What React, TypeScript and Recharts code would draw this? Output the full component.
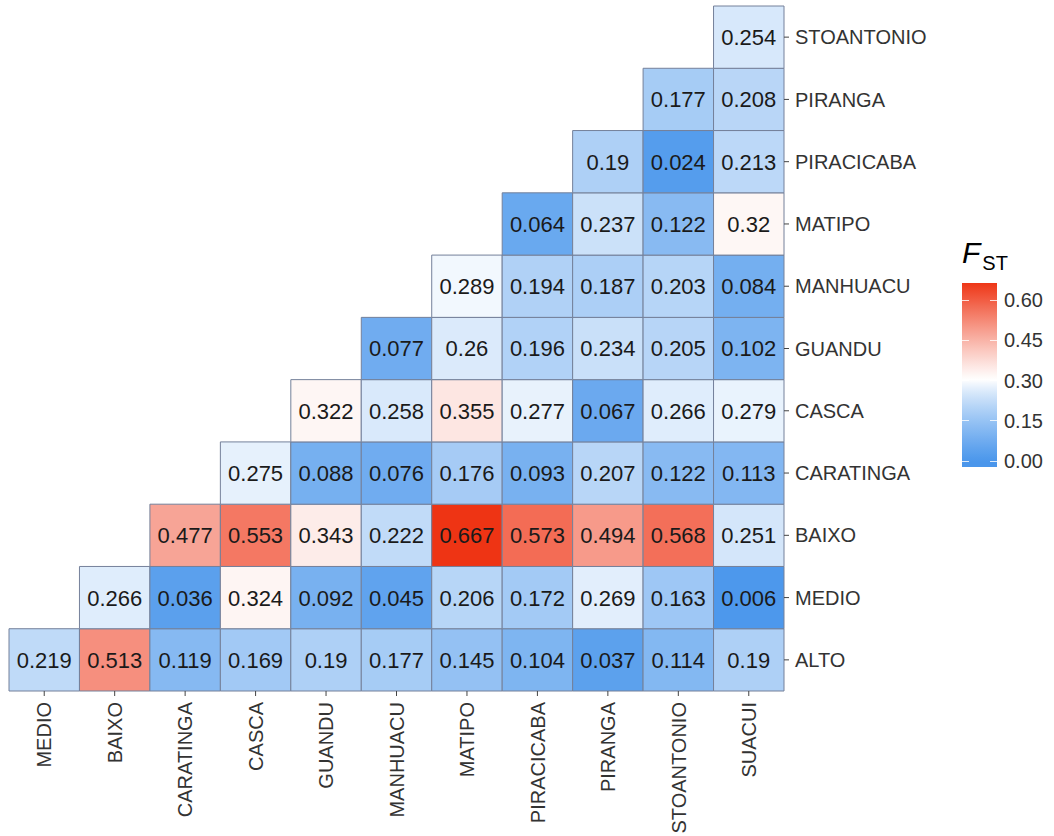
import React from 'react';
import { ComposedChart, XAxis, YAxis, Scatter, ReferenceArea } from 'recharts';

// Sites along the horizontal axis (left to right)
const columnSites = [
  'MEDIO', 'BAIXO', 'CARATINGA', 'CASCA', 'GUANDU', 'MANHUACU',
  'MATIPO', 'PIRACICABA', 'PIRANGA', 'STOANTONIO', 'SUACUI',
];

// Sites along the vertical axis (bottom to top)
const rowSites = [
  'ALTO', 'MEDIO', 'BAIXO', 'CARATINGA', 'CASCA', 'GUANDU',
  'MANHUACU', 'MATIPO', 'PIRACICABA', 'PIRANGA', 'STOANTONIO',
];

// Pairwise FST per row; each row starts at the column with the same index
const fstAlto = [0.219, 0.513, 0.119, 0.169, 0.19, 0.177, 0.145, 0.104, 0.037, 0.114, 0.19];
const fstMedio = [0.266, 0.036, 0.324, 0.092, 0.045, 0.206, 0.172, 0.269, 0.163, 0.006];
const fstBaixo = [0.477, 0.553, 0.343, 0.222, 0.667, 0.573, 0.494, 0.568, 0.251];
const fstCaratinga = [0.275, 0.088, 0.076, 0.176, 0.093, 0.207, 0.122, 0.113];
const fstCasca = [0.322, 0.258, 0.355, 0.277, 0.067, 0.266, 0.279];
const fstGuandu = [0.077, 0.26, 0.196, 0.234, 0.205, 0.102];
const fstManhuacu = [0.289, 0.194, 0.187, 0.203, 0.084];
const fstMatipo = [0.064, 0.237, 0.122, 0.32];
const fstPiracicaba = [0.19, 0.024, 0.213];
const fstPiranga = [0.177, 0.208];
const fstStoantonio = [0.254];

const fstRows = [
  fstAlto, fstMedio, fstBaixo, fstCaratinga, fstCasca, fstGuandu,
  fstManhuacu, fstMatipo, fstPiracicaba, fstPiranga, fstStoantonio,
];

const legendTicks = [0, 0.15, 0.3, 0.45, 0.6];

const FONT = '"Liberation Sans", Arial, Helvetica, sans-serif';

// ---------- diverging colour scale: blue - white - red around 0.30 ----------
const LOW: [number, number, number] = [42, 132, 232];
const MID: [number, number, number] = [255, 255, 255];
const HIGH: [number, number, number] = [238, 52, 20];
const MIDPOINT = 0.3;
const LOW_GAMMA = 0.8;
const HIGH_GAMMA = 1.1;

const allValues = fstRows.flat();
const dataMin = Math.min(0, ...allValues);
const dataMax = Math.max(...allValues);
const halfSpan = Math.max(MIDPOINT - dataMin, dataMax - MIDPOINT);

const mixRgb = (a: number[], b: number[], t: number) =>
  'rgb(' + a.map((c, i) => Math.round(c + (b[i] - c) * t)).join(',') + ')';

function fstColour(v: number): string {
  const d = Math.max(-1, Math.min(1, (v - MIDPOINT) / halfSpan));
  if (d < 0) return mixRgb(MID, LOW, Math.pow(-d, LOW_GAMMA));
  return mixRgb(MID, HIGH, Math.pow(d, HIGH_GAMMA));
}

// ---------- cells ----------
type Cell = { x: number; y: number; col: number; row: number; v: number };
const cells: Cell[] = [];
fstRows.forEach((vals, row) => {
  vals.forEach((v, k) => {
    const col = row + k;
    cells.push({ x: col + 0.5, y: row + 0.5, col, row, v });
  });
});

const centres = columnSites.map((_, i) => i + 0.5);

const XTick = (props: any) => {
  const { x, y, payload } = props;
  const name = columnSites[Math.floor(payload.value)];
  return (
    <g transform={`translate(${x},${y + 4})`}>
      <text
        transform="rotate(-90)"
        textAnchor="end"
        dy="0.36em"
        fontSize={20}
        fontFamily={FONT}
        fill="#333"
      >
        {name}
      </text>
    </g>
  );
};

const CellLabel = (props: any) => {
  const { cx, cy, payload } = props;
  return (
    <text
      x={cx}
      y={cy}
      dy="0.36em"
      textAnchor="middle"
      fontSize={22}
      fontFamily={FONT}
      fill="#1a1a1a"
    >
      {String(payload.v)}
    </text>
  );
};

// legend geometry
const BAR_TOP = 283;
const BAR_BOTTOM = 467;
const TICK_Y0 = 461; // y of 0.00
const TICK_Y60 = 300; // y of 0.60
const valToY = (v: number) => TICK_Y0 + (TICK_Y60 - TICK_Y0) * (v / 0.6);
const yToVal = (y: number) => ((y - TICK_Y0) / (TICK_Y60 - TICK_Y0)) * 0.6;

function barGradient(): string {
  const stops: string[] = [];
  const n = 40;
  for (let i = 0; i <= n; i++) {
    const y = BAR_BOTTOM - ((BAR_BOTTOM - BAR_TOP) * i) / n;
    const v = Math.min(dataMax, Math.max(dataMin, yToVal(y)));
    stops.push(`${fstColour(v)} ${((i / n) * 100).toFixed(1)}%`);
  }
  return `linear-gradient(to top, ${stops.join(', ')})`;
}

export default function App() {
  return (
    <div style={{ position: 'absolute', left: 0, top: 0, width: 1054, height: 836, background: '#fff', overflow: 'hidden' }}>
      <ComposedChart
        width={1054}
        height={836}
        margin={{ top: 6, left: 9, right: 110, bottom: 0 }}
      >
        <XAxis
          type="number"
          dataKey="x"
          domain={[0, 11]}
          ticks={centres}
          interval={0}
          allowDataOverflow
          axisLine={false}
          tickSize={5}
          tickLine={{ stroke: '#444' }}
          tick={(p: any) => <XTick {...p} />}
          height={145}
        />
        <YAxis
          type="number"
          dataKey="y"
          orientation="right"
          domain={[0, 11]}
          ticks={centres}
          interval={0}
          allowDataOverflow
          axisLine={false}
          tickSize={5}
          tickMargin={6}
          tickLine={{ stroke: '#444' }}
          tick={{ fill: '#333', fontSize: 20, fontFamily: FONT }}
          tickFormatter={(v: number) => rowSites[Math.floor(v)]}
          width={160}
        />
        {cells.map((c) => (
          <ReferenceArea
            key={`${c.row}-${c.col}`}
            x1={c.col}
            x2={c.col + 1}
            y1={c.row}
            y2={c.row + 1}
            fill={fstColour(c.v)}
            fillOpacity={1}
            stroke="#74809a"
            strokeWidth={1}
            ifOverflow="visible"
          />
        ))}
        <Scatter
          data={cells}
          dataKey="y"
          isAnimationActive={false}
          shape={(p: any) => <CellLabel {...p} />}
        />
      </ComposedChart>

      {/* colour bar legend */}
      <div style={{ position: 'absolute', left: 962, top: 238, fontFamily: FONT, color: '#000', lineHeight: 1, whiteSpace: 'nowrap' }}>
        <span style={{ fontStyle: 'italic', fontSize: 30 }}>F</span>
        <span style={{ fontSize: 20, position: 'relative', top: 7, marginLeft: 2 }}>ST</span>
      </div>
      <div
        style={{
          position: 'absolute',
          left: 962,
          top: BAR_TOP,
          width: 35,
          height: BAR_BOTTOM - BAR_TOP,
          background: barGradient(),
        }}
      />
      {legendTicks.map((t) => (
        <React.Fragment key={t}>
          <div style={{ position: 'absolute', left: 962, top: valToY(t) - 0.5, width: 7, height: 1, background: 'rgba(255,255,255,0.8)' }} />
          <div style={{ position: 'absolute', left: 990, top: valToY(t) - 0.5, width: 7, height: 1, background: 'rgba(255,255,255,0.8)' }} />
          <div
            style={{
              position: 'absolute',
              left: 1004,
              top: valToY(t) - 11,
              height: 22,
              lineHeight: '22px',
              fontSize: 20,
              fontFamily: FONT,
              color: '#333',
            }}
          >
            {t.toFixed(2)}
          </div>
        </React.Fragment>
      ))}
    </div>
  );
}
